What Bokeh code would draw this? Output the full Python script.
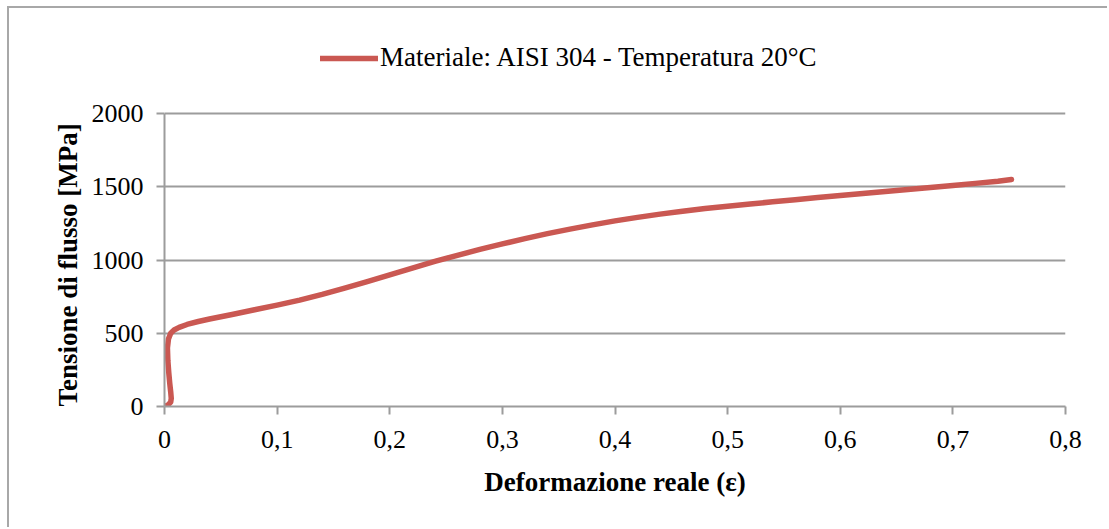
from bokeh.plotting import figure
from bokeh.models import FixedTicker, CustomJSTickFormatter, Legend, Title
from bokeh.embed import file_html
from bokeh.resources import INLINE

# True strain / flow stress curve, AISI 304 at 20 °C
strain = [0.0, 0.003, 0.0055, 0.006, 0.0055, 0.0047, 0.0038, 0.003, 0.0026,
          0.0035, 0.0055, 0.0085, 0.013, 0.02, 0.03, 0.04, 0.06, 0.08,
          0.10, 0.12, 0.14, 0.16, 0.18, 0.20, 0.22, 0.24, 0.26, 0.28, 0.30,
          0.32, 0.34, 0.36, 0.38, 0.40, 0.42, 0.44, 0.46, 0.48, 0.50,
          0.52, 0.54, 0.56, 0.58, 0.60, 0.62, 0.64, 0.66, 0.68, 0.70,
          0.72, 0.74, 0.752]
stress = [0, 10, 30, 55, 100, 155, 230, 312, 400,
          460, 500, 522, 540, 560, 580, 597, 628, 660,
          692, 726, 765, 808, 852, 898, 944, 990, 1032, 1072, 1110,
          1146, 1180, 1211, 1240, 1267, 1291, 1313, 1333, 1351, 1367,
          1382, 1397, 1412, 1426, 1440, 1454, 1468, 1482, 1495, 1509,
          1523, 1538, 1550]

x_ticks = [0.0, 0.1, 0.2, 0.3, 0.4, 0.5, 0.6, 0.7, 0.8]
y_ticks = [0, 500, 1000, 1500, 2000]

series_label = "Materiale: AISI 304 - Temperatura 20°C"
x_title = "Deformazione reale (ε)"
y_title = "Tensione di flusso [MPa]"

FONT = "Liberation Serif"
GRID = "#9c9c9c"
LINE = "#ca5852"

# the frame reaches up to the top so the legend can sit inside it;
# the y axis itself only spans 0..2000
FRAME_H = 398          # px, whole frame height
AXIS_H = 293           # px taken by the 0..2000 stress axis
y_end = y_ticks[-1] * FRAME_H / AXIS_H

p = figure(width=1100, height=521, output_backend="svg", toolbar_location=None,
           x_range=(0, 0.8), y_range=(0, y_end),
           min_border_left=155, min_border_right=44,
           min_border_top=0, min_border_bottom=521 - FRAME_H)
p.styles = {"border-left": "2px solid #a8a8a8", "border-top": "2px solid #a8a8a8",
            "margin-left": "7px", "margin-top": "6px"}
p.outline_line_color = None
p.background_fill_color = "white"
p.border_fill_color = "white"

r = p.line(strain, stress, line_width=5.5, line_color=LINE,
           line_cap="round", line_join="round")

# axes
p.xaxis.ticker = FixedTicker(ticks=x_ticks)
p.xaxis.formatter = CustomJSTickFormatter(
    code="if (Math.abs(tick) < 1e-9) { return '0'; } return tick.toFixed(1).replace('.', ',');")
p.yaxis.ticker = FixedTicker(ticks=y_ticks)
p.yaxis.bounds = (y_ticks[0], y_ticks[-1])
for ax in (p.xaxis[0], p.yaxis[0]):
    ax.axis_line_color = GRID
    ax.axis_line_width = 2
    ax.major_tick_line_color = GRID
    ax.major_tick_line_width = 2
    ax.major_tick_out = 8
    ax.major_tick_in = 0
    ax.minor_tick_line_color = None
    ax.major_label_text_font = FONT
    ax.major_label_text_font_size = "26px"
    ax.major_label_text_color = "black"
    ax.axis_label_text_font = FONT
    ax.axis_label_text_font_size = "27px"
    ax.axis_label_text_font_style = "bold"
    ax.axis_label_text_color = "black"

p.xaxis.axis_label = x_title
p.xaxis.major_label_standoff = 16
p.yaxis.major_label_standoff = 13
p.xaxis.axis_label_standoff = 16

# y title starts at the bottom of the frame, next to the 0..2000 axis
y_label = Title(text=y_title, align="left", standoff=12,
                text_font=FONT, text_font_size="27px",
                text_font_style="bold", text_color="black")
p.add_layout(y_label, "left")

p.xgrid.grid_line_color = None
p.ygrid.grid_line_color = GRID
p.ygrid.grid_line_width = 2

legend = Legend(items=[(series_label, [r])], location=(156, 333),
                orientation="horizontal", padding=0, margin=0, spacing=0,
                glyph_width=58, glyph_height=28, label_standoff=2,
                label_text_font=FONT, label_text_font_size="27px",
                label_text_color="black",
                border_line_color=None, background_fill_alpha=0)
p.add_layout(legend, "center")

open("out.html", "w").write(file_html(p, INLINE))
